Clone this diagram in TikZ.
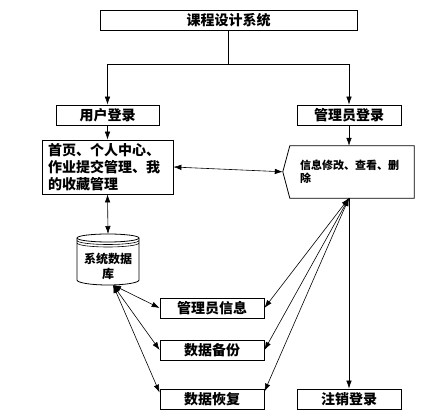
\documentclass[tikz,border=0pt]{standalone}
\usepackage{fontspec}
\setmainfont{Noto Sans CJK SC}
\usetikzlibrary{arrows.meta}
\begin{document}
\begin{tikzpicture}[x=1pt, y=1pt, >={Latex[length=8pt,width=5.5pt]},
    box/.style={draw, line width=0.8pt, inner sep=0pt, minimum height=20pt,
      font=\fontsize{14}{17}\bfseries\selectfont},
    link/.style={line width=0.6pt}]
    \useasboundingbox (0,0) rectangle (431,415);

    \node[box, minimum width=257pt] (sys) at (228.5,395) {课程设计系统};
    \node[box, minimum width=103pt] (user) at (107.5,300) {用户登录};
    \node[box, minimum width=104pt] (admin) at (349,300) {管理员登录};
    \node[box, minimum width=131pt, minimum height=54pt, text width=119pt, align=left] (home) at (107.5,248) {首页、个人中心、\\作业提交管理、我\\的收藏管理};

    % admin side, pointed on the left
    \node[minimum width=124pt, minimum height=52pt, inner sep=0pt, text width=104pt, align=left,
      font=\fontsize{11}{13}\bfseries\selectfont] (edit) at (352,243) {信息修改、查看、删\\除};
    \draw[line width=0.8pt] (edit.north east) -- (edit.north west) -- ++(-7,-26) coordinate (edittip)
      -- (edit.south west) -- (edit.south east) -- cycle;
    \coordinate (hub) at (349,217);

    % database cylinder
    \draw[line width=0.8pt] (77,177) -- (77,135) arc[start angle=180, end angle=360, x radius=31, y radius=5]
      -- (139,177) arc[start angle=0, end angle=180, x radius=31, y radius=4];
    \draw[line width=0.8pt] (77,177) arc[start angle=180, end angle=360, x radius=31, y radius=4];
    \draw[line width=0.6pt] (77,174.5) arc[start angle=180, end angle=360, x radius=31, y radius=4];
    \draw[line width=0.6pt] (77,172) arc[start angle=180, end angle=360, x radius=31, y radius=4];
    \node[font=\fontsize{12}{15}\bfseries\selectfont, align=center, inner sep=0pt] (db) at (108,149) {系统数据\\库};
    \coordinate (dbtop) at (108,181);
    \coordinate (dbfoot) at (113,130);

    \node[box, minimum width=104pt] (info) at (212,107) {管理员信息};
    \node[box, minimum width=104pt] (backup) at (212,65) {数据备份};
    \node[box, minimum width=104pt] (restore) at (212,16) {数据恢复};
    \node[box, minimum width=104pt] (logout) at (349,16) {注销登录};

    \draw[->,link] (sys.south) -- ++(0,-34) -| (user.north);
    \draw[->,link] (sys.south) -- ++(0,-34) -| (admin.north);
    \draw[->,link] (user.south) -- (home.north);
    \draw[->,link] (admin.south) -- (admin.south |- edit.north);
    \draw[<->,link] (home.east) -- (edittip);
    \draw[<->,link] (home.south) -- (dbtop);

    \draw[<->,link] (dbfoot) -- (info.west);
    \draw[<->,link] (dbfoot) -- (backup.west);
    \draw[<->,link] (dbfoot) -- ([yshift=-4pt]restore.north west);
    \draw[<->,link] (hub) -- (info.east);
    \draw[<->,link] (hub) -- (backup.east);
    \draw[<->,link] (hub) -- ([yshift=-3pt]restore.north east);
    \draw[->,link] (hub) -- (logout.north);
\end{tikzpicture}
\end{document}
